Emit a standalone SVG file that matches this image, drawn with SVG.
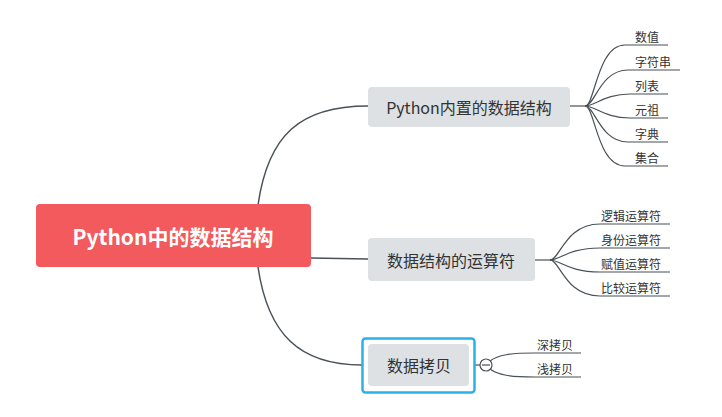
<svg xmlns="http://www.w3.org/2000/svg" width="722" height="417" viewBox="0 0 722 417">
<style>
text{font-family:"Noto Sans CJK SC","Liberation Sans",sans-serif;fill:#333}
.c{fill:none;stroke:#4a5157;stroke-width:1.5}
.t{fill:none;stroke:#4a5157;stroke-width:1.2}
.n{fill:#dde1e3}
.m{font-size:16px;text-anchor:middle;dominant-baseline:central}
.s{font-size:12px}
</style>
<rect width="722" height="417" fill="#fff"/>
<g id="connectors">
<path class="c" d="M258 205 C268 135 300 106 368 106"/>
<path class="c" d="M311 258 L368 259"/>
<path class="c" d="M258 267 C268 335 300 365 362 365"/>
<path class="t" d="M570 106 L585 106"/>
<path class="t" d="M585 106 C595 106 597 45 625 45 L668 45"/>
<path class="t" d="M585 106 C595 106 600 70 628 70 L680 70"/>
<path class="t" d="M585 106 C595 106 605 94 630 94 L668 94"/>
<path class="t" d="M585 106 C595 106 605 118 630 118 L668 118"/>
<path class="t" d="M585 106 C595 106 600 142 628 142 L668 142"/>
<path class="t" d="M585 106 C595 106 597 166 625 166 L668 166"/>
<path class="t" d="M535 260 L550 260"/>
<path class="t" d="M550 260 C560 260 565 224 600 224 L670 224"/>
<path class="t" d="M550 260 C560 260 568 248 600 248 L670 248"/>
<path class="t" d="M550 260 C560 260 568 272 600 272 L670 272"/>
<path class="t" d="M550 260 C560 260 565 296 600 296 L670 296"/>
<path class="t" d="M475 365 L480 365"/>
<path class="t" d="M490 361 C498 355 510 353 535 353 L581 353"/>
<path class="t" d="M490 369 C498 375 510 377 535 377 L581 377"/>
</g>
<g id="root"><rect x="36" y="204" width="275" height="63" rx="4" fill="#f25a5e"/><text x="173" y="236" class="m" style="font-size:21px;fill:#fff;font-weight:bold">Python中的数据结构</text></g>
<g id="n1"><rect class="n" x="368" y="87" width="202" height="40" rx="4"/><text x="469" y="107" class="m">Python内置的数据结构</text></g>
<g id="n2"><rect class="n" x="368" y="238" width="167" height="43" rx="4"/><text x="451" y="260" class="m">数据结构的运算符</text></g>
<g id="n3"><rect x="362.5" y="338.5" width="112" height="54" rx="3" fill="none" stroke="#29b1ea" stroke-width="2.5"/><rect class="n" x="368" y="344" width="101" height="42" rx="4"/><text x="419" y="365" class="m">数据拷贝</text>
<circle cx="486" cy="365" r="6" fill="#fff" stroke="#4a5157" stroke-width="1.2"/><path d="M482 365 H490" stroke="#4a5157" stroke-width="1.2"/></g>
<g id="leaves">
<text class="s" x="635" y="42">数值</text>
<text class="s" x="635" y="67">字符串</text>
<text class="s" x="635" y="91">列表</text>
<text class="s" x="635" y="115">元祖</text>
<text class="s" x="635" y="139">字典</text>
<text class="s" x="635" y="163">集合</text>
<text class="s" x="601" y="221">逻辑运算符</text>
<text class="s" x="601" y="245">身份运算符</text>
<text class="s" x="601" y="269">赋值运算符</text>
<text class="s" x="601" y="293">比较运算符</text>
<text class="s" x="537" y="350">深拷贝</text>
<text class="s" x="537" y="374">浅拷贝</text>
</g>
</svg>
